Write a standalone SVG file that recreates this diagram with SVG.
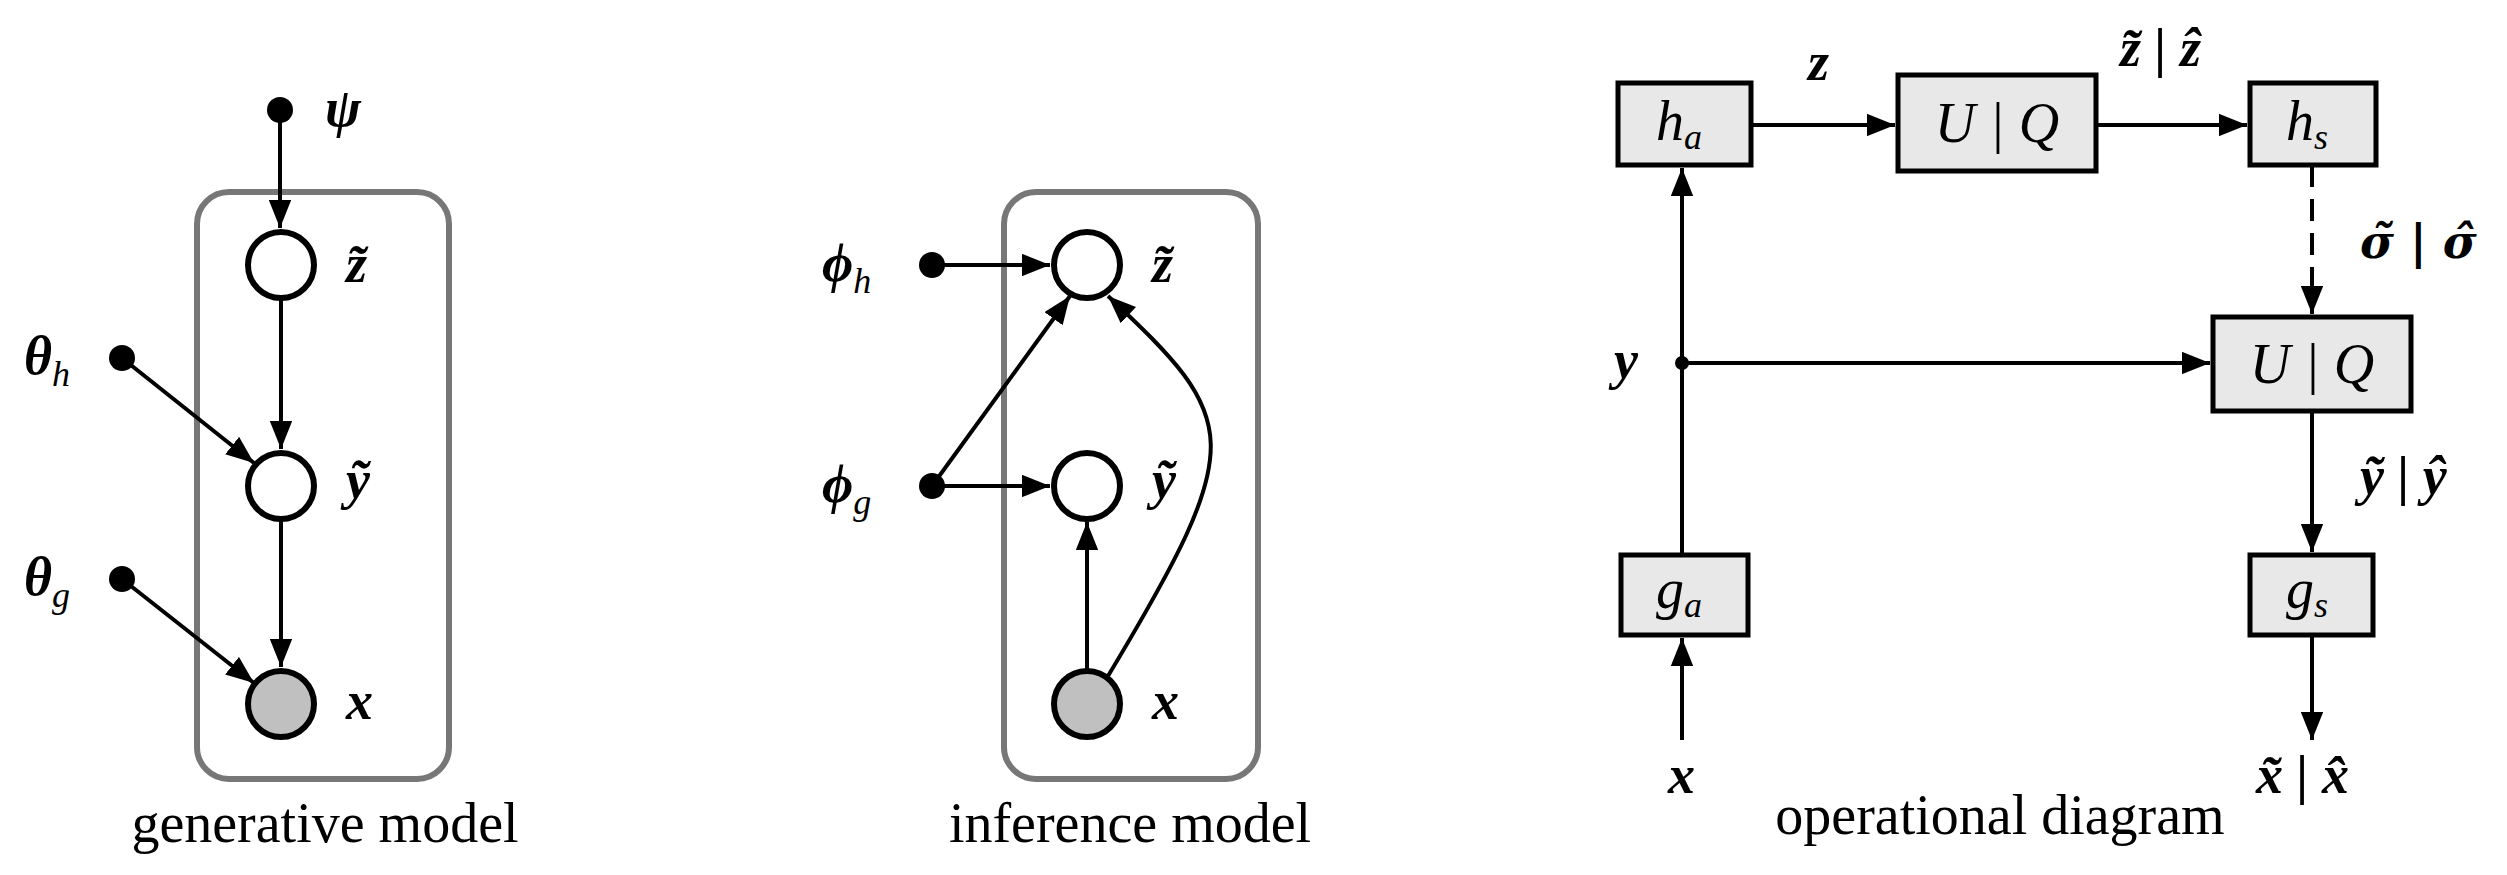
<svg xmlns="http://www.w3.org/2000/svg" width="2507" height="875" viewBox="0 0 2507 875">
<style>
.plate{fill:none;stroke:#777;stroke-width:6}
.n{fill:#fff;stroke:#000;stroke-width:6}
.obs{fill:#c0c0c0;stroke:#000;stroke-width:6}
.box{fill:#e8e8e8;stroke:#000;stroke-width:5}
.e{fill:none;stroke:#000;stroke-width:4}
.m{font-family:"Liberation Serif",serif;font-style:italic;font-weight:bold;font-size:54px}
.d{font-family:"DejaVu Serif",serif;font-style:italic;font-weight:bold;font-size:46px}
.r{font-family:"Liberation Serif",serif;font-style:italic;font-size:56px}
.s{font-size:36px;font-weight:normal;font-style:italic}
.cap{font-family:"Liberation Serif",serif;font-size:56px;text-anchor:middle}
</style>
<defs>
<marker id="a" viewBox="0 0 10 8" refX="10" refY="4" markerWidth="7" markerHeight="5.6" orient="auto" markerUnits="strokeWidth"><path d="M0,0L10,4L0,8z" fill="#000"/></marker>
</defs>
<g id="plates">
<rect class="plate" x="197" y="192" width="252" height="587" rx="32"/>
<rect class="plate" x="1004" y="192" width="254" height="587" rx="32"/>
</g>
<g id="connectors">
<path class="e" d="M280,110V228" marker-end="url(#a)"/>
<path class="e" d="M281,299V449" marker-end="url(#a)"/>
<path class="e" d="M281,520V667" marker-end="url(#a)"/>
<path class="e" d="M122,358L254,463" marker-end="url(#a)"/>
<path class="e" d="M122,579L254,683" marker-end="url(#a)"/>
<path class="e" d="M932,265H1050" marker-end="url(#a)"/>
<path class="e" d="M932,486H1050" marker-end="url(#a)"/>
<path class="e" d="M932,486L1070,296" marker-end="url(#a)"/>
<path class="e" d="M1087,670V522" marker-end="url(#a)"/>
<path class="e" d="M1108,676C1250,440 1240,420 1108,296" marker-end="url(#a)"/>
<path class="e" d="M1682,740V638" marker-end="url(#a)"/>
<path class="e" d="M1682,555V168" marker-end="url(#a)"/>
<path class="e" d="M1682,363H2210" marker-end="url(#a)"/>
<path class="e" d="M1751,125H1895" marker-end="url(#a)"/>
<path class="e" d="M2096,125H2247" marker-end="url(#a)"/>
<path class="e" d="M2312,165V314" stroke-dasharray="22,12" marker-end="url(#a)"/>
<path class="e" d="M2312,411V552" marker-end="url(#a)"/>
<path class="e" d="M2312,635V740" marker-end="url(#a)"/>
<circle cx="1682" cy="363" r="7"/>
</g>
<g id="gen">
<circle cx="280" cy="110" r="13"/><text class="m" x="325" y="126">ψ</text>
<circle cx="122" cy="358" r="13"/><text class="m" x="24" y="374">θ<tspan class="s" dy="12">h</tspan></text>
<circle cx="122" cy="579" r="13"/><text class="m" x="24" y="595">θ<tspan class="s" dy="12">g</tspan></text>
<g id="gz"><circle class="n" cx="281" cy="265" r="33"/><text class="m" x="346" y="282">z̃</text></g>
<g id="gy"><circle class="n" cx="281" cy="486" r="33"/><text class="m" x="346" y="498">ỹ</text></g>
<g id="gx"><circle class="obs" cx="281" cy="704" r="33"/><text class="m" x="346" y="719">x</text></g>
<text class="cap" x="325" y="842">generative model</text>
</g>
<g id="inf">
<circle cx="932" cy="265" r="13"/><text class="m" x="822" y="281">ϕ<tspan class="s" dy="12">h</tspan></text>
<circle cx="932" cy="486" r="13"/><text class="m" x="822" y="502">ϕ<tspan class="s" dy="12">g</tspan></text>
<g id="iz"><circle class="n" cx="1087" cy="265" r="33"/><text class="m" x="1152" y="282">z̃</text></g>
<g id="iy"><circle class="n" cx="1087" cy="486" r="33"/><text class="m" x="1152" y="498">ỹ</text></g>
<g id="ix"><circle class="obs" cx="1087" cy="704" r="33"/><text class="m" x="1152" y="719">x</text></g>
<text class="cap" x="1130" y="842">inference model</text>
</g>
<g id="op">
<g id="ha"><rect class="box" x="1618" y="83" width="133" height="82"/><text class="r" x="1656" y="140">h<tspan class="s" dy="9">a</tspan></text></g>
<g id="uq1"><rect class="box" x="1898" y="75" width="198" height="96"/><text class="r" x="1997" y="142" text-anchor="middle">U | Q</text></g>
<g id="hs"><rect class="box" x="2250" y="83" width="126" height="82"/><text class="r" x="2286" y="140">h<tspan class="s" dy="9">s</tspan></text></g>
<g id="uq2"><rect class="box" x="2213" y="317" width="198" height="94"/><text class="r" x="2312" y="383" text-anchor="middle">U | Q</text></g>
<g id="ga"><rect class="box" x="1621" y="555" width="127" height="80"/><text class="r" x="1656" y="608">g<tspan class="s" dy="9">a</tspan></text></g>
<g id="gs"><rect class="box" x="2250" y="555" width="123" height="80"/><text class="r" x="2286" y="608">g<tspan class="s" dy="9">s</tspan></text></g>
<text class="m" x="1808" y="80">z</text>
<text class="m" x="2120" y="66">z̃ | ẑ</text>
<text class="d" x="2360" y="258">σ̃ | σ̂</text>
<text class="m" x="1614" y="378">y</text>
<text class="m" x="2360" y="494">ỹ | ŷ</text>
<text class="m" x="1668" y="793">x</text>
<text class="m" x="2256" y="793">x̃ | x̂</text>
<text class="cap" x="2000" y="834">operational diagram</text>
</g>
</svg>
